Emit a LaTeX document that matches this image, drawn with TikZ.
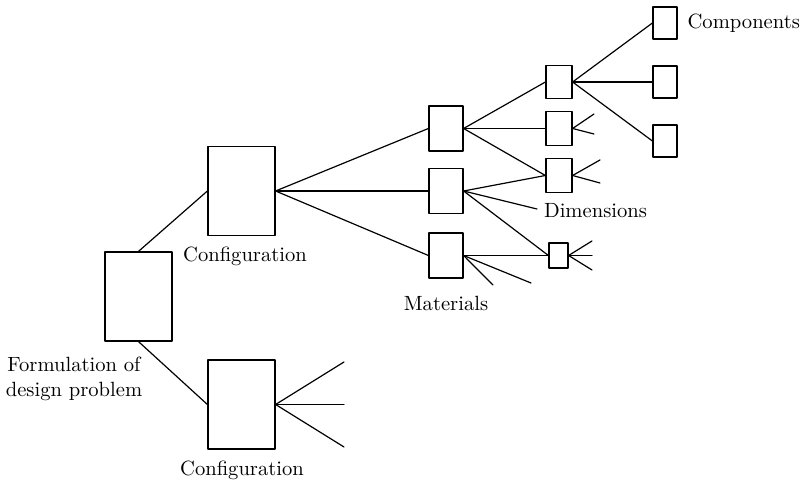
\documentclass[tikz,border=0pt]{standalone}
\begin{document}
\begin{tikzpicture}[line cap=round, line join=round, x=0.5pt, y=-0.5pt,
		font=\fontsize{10.3}{12.5}\selectfont, line width=0.6pt,
		bigbox/.style={draw, inner sep=0pt, minimum width=33.5pt, minimum height=44.5pt},
		matbox/.style={draw, inner sep=0pt, minimum width=17pt, minimum height=22.5pt},
		dimbox/.style={draw, inner sep=0pt, minimum width=13pt, minimum height=16.8pt},
		tinybox/.style={draw, inner sep=0pt, minimum width=9.5pt, minimum height=12.5pt},
		compbox/.style={draw, inner sep=0pt, minimum width=12pt, minimum height=16pt},
		lbl/.style={inner sep=0pt}]
	
	% Khung hình (theo pixel của hình gốc)
	\useasboundingbox (0,0) rectangle (805,485);
	
	% Các hộp chính
	\node[bigbox] (F) at (138.5,296.5) {};
	\node[bigbox] (C1) at (241.5,191) {};
	\node[bigbox] (C2) at (241.5,404.5) {};
	
	% Vật liệu
	\node[matbox] (M1) at (446,128.5) {};
	\node[matbox] (M2) at (446,191) {};
	\node[matbox] (M3) at (446,255.5) {};
	
	% Kích thước
	\node[dimbox] (D1) at (559,82) {};
	\node[dimbox] (D2) at (559,128.5) {};
	\node[dimbox] (D3) at (559,175.5) {};
	\node[tinybox] (D4) at (558.5,255.5) {};
	
	% Chi tiết
	\node[compbox] (P1) at (665,23) {};
	\node[compbox] (P2) at (665,82) {};
	\node[compbox] (P3) at (665,141) {};
	
	% Các đầu mút tự do
	\coordinate (e1) at (344,362);
	\coordinate (e2) at (344,404.5);
	\coordinate (e3) at (344,447);
	\coordinate (m2a) at (537,209);
	\coordinate (m3a) at (493,285);
	\coordinate (m3b) at (531,283);
	\coordinate (d2a) at (594,114);
	\coordinate (d2b) at (594,134);
	\coordinate (d3a) at (600,160);
	\coordinate (d3b) at (600,183);
	\coordinate (d4a) at (592,241);
	\coordinate (d4b) at (592,255.5);
	\coordinate (d4c) at (592,270);
	
	% Nối các hộp
	\draw (F.north) -- (C1.west);
	\draw (F.south) -- (C2.west);
	\draw (C1.east) -- (M1.west);
	\draw (C1.east) -- (M2.west);
	\draw (C1.east) -- (M3.west);
	\draw (M1.east) -- (D1.west);
	\draw (M1.east) -- (D2.west);
	\draw (M1.east) -- (D3.west);
	\draw (M2.east) -- (D3.west);
	\draw (M2.east) -- (D4.west);
	\draw (M2.east) -- (m2a);
	\draw (M3.east) -- (D4.west);
	\draw (M3.east) -- (m3a);
	\draw (M3.east) -- (m3b);
	\draw (D1.east) -- (P1.west);
	\draw (D1.east) -- (P2.west);
	\draw (D1.east) -- (P3.west);
	\draw (D2.east) -- (d2a);
	\draw (D2.east) -- (d2b);
	\draw (D3.east) -- (d3a);
	\draw (D3.east) -- (d3b);
	\draw (D4.east) -- (d4a);
	\draw (D4.east) -- (d4b);
	\draw (D4.east) -- (d4c);
	\draw (C2.east) -- (e1);
	\draw (C2.east) -- (e2);
	\draw (C2.east) -- (e3);
	
	% Nhãn
	\node[lbl, anchor=north, align=center] (tF) at (74,356) {Formulation of\\design problem};
	\node[lbl, anchor=base] (tC1) at (245,262) {Configuration};
	\node[lbl, anchor=base] (tC2) at (242,476) {Configuration};
	\node[lbl, anchor=base] (tM) at (446,311) {Materials};
	\node[lbl, anchor=base] (tD) at (595.5,218) {Dimensions};
	\node[lbl, anchor=base west] (tP) at (687,29) {Components};
	
\end{tikzpicture}
\end{document}
